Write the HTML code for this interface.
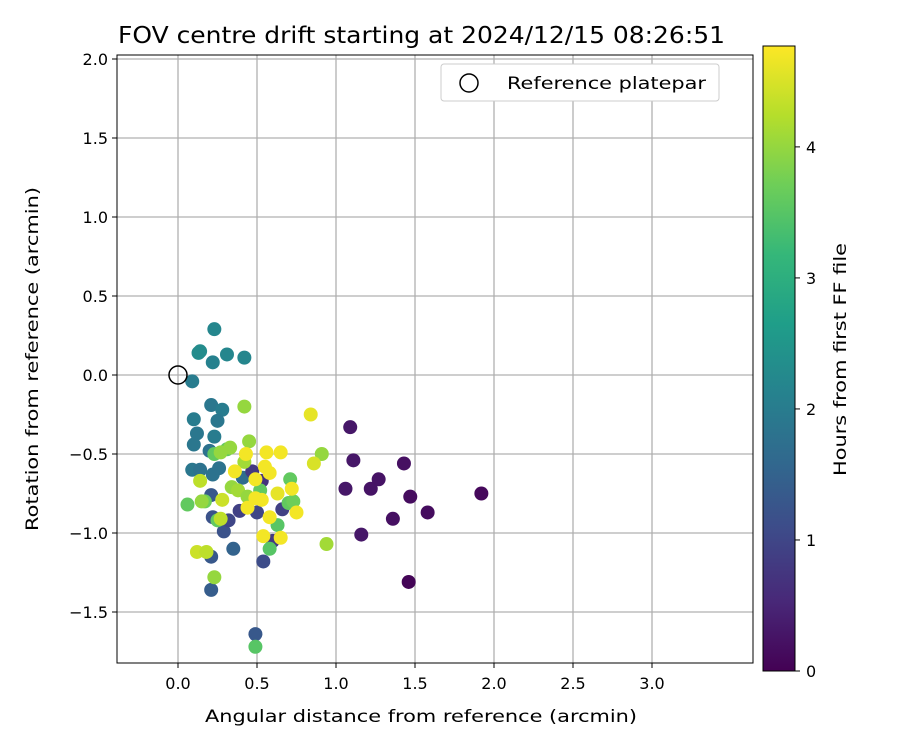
<!DOCTYPE html>
<html><head><meta charset="utf-8"><style>
body{margin:0;background:#fff;font-family:"Liberation Sans","DejaVu Sans",sans-serif}
</style></head><body>
<svg width="900" height="750" xmlns="http://www.w3.org/2000/svg" font-family="DejaVu Sans, Liberation Sans, sans-serif">
<defs>
<linearGradient id="vir" x1="0" y1="1" x2="0" y2="0"></linearGradient>
<clipPath id="pc"><rect x="117" y="55" width="636" height="608"/></clipPath>
</defs>
<text x="118" y="43" font-size="23" textLength="607" lengthAdjust="spacingAndGlyphs">FOV centre drift starting at 2024/12/15 08:26:51</text>
<g id="grid"></g>
<g id="pts" clip-path="url(#pc)"></g>
<rect x="117" y="55" width="636" height="608" fill="none" stroke="#000" stroke-width="1"/>
<g id="ticks" font-size="16"></g>
<text x="205" y="722" font-size="17" textLength="432" lengthAdjust="spacingAndGlyphs">Angular distance from reference (arcmin)</text>
<text transform="translate(38,531) rotate(-90)" font-size="17" textLength="344" lengthAdjust="spacingAndGlyphs">Rotation from reference (arcmin)</text>
<g>
<rect x="441" y="64" width="278" height="37" rx="3" fill="#fff" stroke="#ccc"/>
<circle cx="469" cy="83" r="9" fill="none" stroke="#000" stroke-width="1.5"/>
<text x="507" y="89" font-size="17" textLength="199" lengthAdjust="spacingAndGlyphs">Reference platepar</text>
</g>
<rect x="763" y="46" width="32" height="625" fill="url(#vir)" stroke="#000"/>
<g id="cbt" font-size="16"></g>
<text transform="translate(846,476) rotate(-90)" font-size="17" textLength="233" lengthAdjust="spacingAndGlyphs">Hours from first FF file</text>
</svg>
<script>
const xs=[1.09,1.11,1.06,1.22,1.27,1.16,1.36,1.43,1.47,1.58,1.92,1.46,0.23,0.14,0.13,0.31,0.42,0.22,0.09,0.10,0.21,0.28,0.25,0.12,0.23,0.10,0.20,0.09,0.14,0.22,0.26,0.41,0.21,0.22,0.29,0.32,0.35,0.21,0.21,0.54,0.49,0.39,0.50,0.66,0.60,0.47,0.53,0.06,0.17,0.25,0.58,0.63,0.71,0.49,0.31,0.23,0.52,0.70,0.73,0.42,0.45,0.91,0.94,0.33,0.27,0.34,0.38,0.44,0.42,0.14,0.23,0.15,0.28,0.12,0.18,0.27,0.84,0.86,0.43,0.56,0.65,0.55,0.58,0.36,0.49,0.72,0.75,0.53,0.49,0.44,0.58,0.54,0.65,0.63];
const ys=[-0.33,-0.54,-0.72,-0.72,-0.66,-1.01,-0.91,-0.56,-0.77,-0.87,-0.75,-1.31,0.29,0.15,0.14,0.13,0.11,0.08,-0.04,-0.28,-0.19,-0.22,-0.29,-0.37,-0.39,-0.44,-0.48,-0.60,-0.60,-0.63,-0.59,-0.65,-0.76,-0.90,-0.99,-0.92,-1.10,-1.15,-1.36,-1.18,-1.64,-0.86,-0.87,-0.85,-1.05,-0.61,-0.67,-0.82,-0.80,-0.92,-1.10,-0.95,-0.66,-1.72,-0.47,-0.50,-0.73,-0.81,-0.80,-0.20,-0.42,-0.50,-1.07,-0.46,-0.49,-0.71,-0.73,-0.77,-0.55,-0.67,-1.28,-0.80,-0.79,-1.12,-1.12,-0.91,-0.25,-0.56,-0.50,-0.49,-0.49,-0.58,-0.62,-0.61,-0.66,-0.72,-0.87,-0.79,-0.78,-0.84,-0.90,-1.02,-1.03,-0.75];
const hours=[0.3,0.3,0.3,0.25,0.25,0.3,0.2,0.2,0.15,0.15,0.1,0.05,2.2,2.3,2.3,2.2,2.2,2.1,2.0,2.0,1.9,2.0,1.9,1.9,2.0,1.9,1.8,1.9,1.8,1.8,1.8,1.7,1.3,1.2,1.2,1.0,1.5,1.3,1.4,1.1,1.3,0.9,1.0,0.9,0.8,0.8,0.7,3.6,3.7,3.6,3.5,3.5,3.6,3.5,3.6,3.6,3.6,3.6,3.7,4.0,4.0,4.0,4.1,4.0,4.0,4.0,4.1,4.0,4.1,4.3,4.0,4.0,4.4,4.4,4.3,4.3,4.6,4.5,4.7,4.7,4.7,4.7,4.7,4.7,4.7,4.7,4.7,4.7,4.7,4.7,4.7,4.7,4.7,4.6];
const xTicks=[0,0.5,1,1.5,2,2.5,3];
const yTicks=[-1.5,-1,-0.5,0,0.5,1,1.5,2];
const cbTicks=[0,1,2,3,4];
const hMax=4.77;
const X=v=>178+v*158, Y=v=>375-v*158, CB=v=>671-v*(625/hMax);
const vir=[[68,1,84],[72,40,120],[62,74,137],[49,104,142],[38,130,142],[31,158,137],[53,183,121],[110,206,88],[181,222,43],[253,231,37]];
function col(t){t=Math.max(0,Math.min(1,t))*(vir.length-1);const i=Math.min(vir.length-2,Math.floor(t)),f=t-i;const c=vir[i].map((a,k)=>Math.round(a+(vir[i+1][k]-a)*f));return `rgb(${c})`;}
const NS='http://www.w3.org/2000/svg';
function mk(p,tag,at){const e=document.createElementNS(NS,tag);for(const k in at)e.setAttribute(k,at[k]);p.appendChild(e);return e;}
const grad=document.getElementById('vir');
vir.forEach((c,i)=>mk(grad,'stop',{offset:i/(vir.length-1),'stop-color':`rgb(${c})`}));
const g=document.getElementById('grid'),tk=document.getElementById('ticks'),pts=document.getElementById('pts'),cb=document.getElementById('cbt');
xTicks.forEach(v=>{const l=mk(g,'line',{x1:X(v),x2:X(v),y1:55,y2:663,stroke:'#b0b0b0','stroke-width':1.3});

mk(tk,'line',{x1:X(v),x2:X(v),y1:663,y2:668,stroke:'#000'});
const t=mk(tk,'text',{x:X(v),y:689,'text-anchor':'middle'});t.textContent=v.toFixed(1);
});
yTicks.forEach(v=>{const l=mk(g,'line',{x1:117,x2:753,y1:Y(v),y2:Y(v),stroke:'#b0b0b0','stroke-width':1.3});

mk(tk,'line',{x1:112,x2:117,y1:Y(v),y2:Y(v),stroke:'#000'});
const t=mk(tk,'text',{x:108,y:Y(v)+6,'text-anchor':'end'});t.textContent=(v<0?'\u2212':'')+Math.abs(v).toFixed(1);
});
xs.forEach((x,i)=>{const c=mk(pts,'circle',{cx:X(x),cy:Y(ys[i]),r:7,fill:col(hours[i]/hMax)});
});
const r=mk(pts,'circle',{cx:X(0),cy:Y(0),r:9,fill:'none',stroke:'#000','stroke-width':1.5});

cbTicks.forEach(v=>{mk(cb,'line',{x1:795,x2:800,y1:CB(v),y2:CB(v),stroke:'#000'});
const t=mk(cb,'text',{x:806,y:CB(v)+6});t.textContent=v;
});
</script>
</body></html>
